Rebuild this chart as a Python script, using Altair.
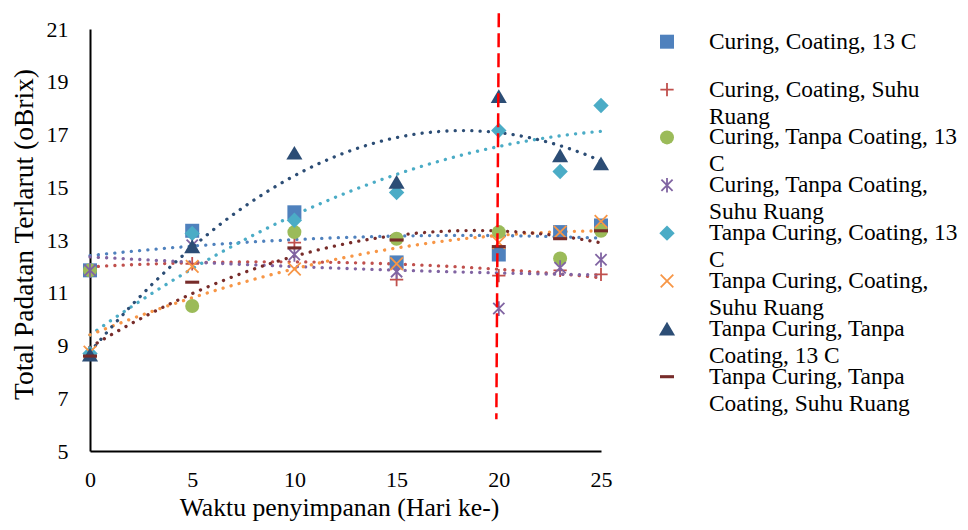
import altair as alt
import pandas as pd

# ---- data ----
days = [0, 5, 10, 15, 20, 23, 25]

names = [
    "Curing, Coating, 13 C",
    "Curing, Coating, Suhu Ruang",
    "Curing, Tanpa Coating, 13 C",
    "Curing, Tanpa Coating, Suhu Ruang",
    "Tanpa Curing, Coating, 13 C",
    "Tanpa Curing, Coating, Suhu Ruang",
    "Tanpa Curing, Tanpa Coating, 13 C",
    "Tanpa Curing, Tanpa Coating, Suhu Ruang",
]
legend_labels = [
    "Curing, Coating, 13 C",
    "Curing, Coating, Suhu|Ruang",
    "Curing, Tanpa Coating, 13|C",
    "Curing, Tanpa Coating,|Suhu Ruang",
    "Tanpa Curing, Coating, 13|C",
    "Tanpa Curing, Coating,|Suhu Ruang",
    "Tanpa Curing, Tanpa|Coating, 13 C",
    "Tanpa Curing, Tanpa|Coating, Suhu Ruang",
]

cc13 = [11.85, 13.35, 14.05, 12.15, 12.45, 13.3, 13.55]
ccsr = [11.85, 12.1, 12.9, 11.5, 11.65, 11.85, 11.7]
ctc13 = [11.85, 10.5, 13.3, 13.05, 13.3, 12.3, 13.35]
ctcsr = [11.85, 12.8, 12.45, 11.8, 10.4, 11.95, 12.25]
tcc13 = [8.7, 13.25, 13.75, 14.8, 17.15, 15.6, 18.1]
tccsr = [8.75, 12.0, 11.9, 12.1, 12.9, 13.3, 13.7]
tctc13 = [8.65, 12.75, 16.3, 15.2, 18.45, 16.2, 15.9]
tctcsr = [8.6, 11.4, 12.7, 13.0, 12.75, 13.05, 13.35]
values = [cc13, ccsr, ctc13, ctcsr, tcc13, tccsr, tctc13, tctcsr]

# series that have a dotted polynomial trendline
trend_series = [names[0], names[1], names[3], names[4], names[5], names[6], names[7]]

# red dashed reference line
vline_top_x = [20.0]
vline_bottom_x = [19.88]
vline_top_y = [21.6]
vline_bottom_y = [6.2]

# ---- styling ----
colors = ["#4F81BD", "#C0504D", "#9BBB59", "#8064A2", "#4BACC6", "#F79646", "#2C4D75", "#772C2A"]
shapes = [
    "M-1,-1H1V1H-1Z",                      # square
    "M-0.95,0H0.95M0,-0.95V0.95",          # plus
    "circle",                              # circle
    "M-0.8,-0.8L0.8,0.8M-0.8,0.8L0.8,-0.8M0,-1.05V1.05",  # asterisk
    "M0,-1.1L1.1,0L0,1.1L-1.1,0Z",         # diamond
    "M-0.9,-0.9L0.9,0.9M-0.9,0.9L0.9,-0.9",  # x
    "M0,-1L1.15,0.95L-1.15,0.95Z",         # triangle
    "M-1,-0.22H1V0.22H-1Z",                # dash
]
line_shape = [False, True, False, True, False, True, False, False]
fills = ["transparent" if l else c for c, l in zip(colors, line_shape)]
strokes = [c if l else "transparent" for c, l in zip(colors, line_shape)]

FONT = "Liberation Serif"

rows = []
for n, vals in zip(names, values):
    for d, v in zip(days, vals):
        rows.append({"series": n, "x": d, "y": v})
df = pd.DataFrame(rows)

leg_df = pd.DataFrame({"series": names, "label": legend_labels})
rule_df = pd.DataFrame({"x": vline_top_x, "x2": vline_bottom_x, "y": vline_top_y, "y2": vline_bottom_y})

xscale = alt.Scale(domain=[0, 25], nice=False, zero=False)
yscale = alt.Scale(domain=[5, 21], nice=False, zero=False)

xaxis = alt.Axis(values=[0, 5, 10, 15, 20, 25], title="Waktu penyimpanan (Hari ke-)",
                 grid=False, ticks=False, tickSize=0, labelPadding=18, titlePadding=5,
                 labelFlush=False, titleFontSize=25.7, titleX=249,
                 domainColor="black", domainWidth=2)
yaxis = alt.Axis(values=list(range(5, 22, 2)), title="Total Padatan Terlarut (oBrix)",
                 grid=False, ticks=False, tickSize=0, labelPadding=22, titlePadding=8,
                 labelFlush=False, titleFontSize=27.5, titleY=205,
                 domainColor="black", domainWidth=2)

color_scale = alt.Scale(domain=names, range=colors)
shape_scale = alt.Scale(domain=names, range=shapes)
fill_scale = alt.Scale(domain=names, range=fills)
stroke_scale = alt.Scale(domain=names, range=strokes)

base = alt.Chart(df)

trend = base.transform_filter(
    alt.FieldOneOfPredicate(field="series", oneOf=trend_series)
).transform_regression(
    "x", "y", groupby=["series"], method="poly", order=2, extent=[0, 25]
).mark_line(strokeDash=[0.1, 8.2], strokeCap="round", strokeWidth=3.3).encode(
    x=alt.X("x:Q", scale=xscale, axis=xaxis),
    y=alt.Y("y:Q", scale=yscale, axis=yaxis),
    color=alt.Color("series:N", scale=color_scale, legend=None),
    detail="series:N",
)

points = base.mark_point(size=196, strokeWidth=1.8, opacity=1, filled=False).encode(
    x=alt.X("x:Q", scale=xscale),
    y=alt.Y("y:Q", scale=yscale),
    shape=alt.Shape("series:N", scale=shape_scale, legend=None),
    fill=alt.Fill("series:N", scale=fill_scale, legend=None),
    stroke=alt.Stroke("series:N", scale=stroke_scale, legend=None),
)

rule = alt.Chart(rule_df).mark_rule(color="#FF0000", strokeWidth=2.5, strokeDash=[14, 6]).encode(
    x=alt.X("x:Q", scale=xscale),
    x2="x2:Q",
    y=alt.Y("y:Q", scale=yscale),
    y2="y2:Q",
)

main = alt.layer(trend, points, rule)

leg_y = alt.Y("series:N", scale=alt.Scale(type="point", domain=names, range=[12.7, 347.7], padding=0),
              axis=None, sort=names)
leg_pts = alt.Chart(leg_df).mark_point(size=196, strokeWidth=1.8, opacity=1, filled=False).encode(
    x=alt.value(577),
    y=leg_y,
    shape=alt.Shape("series:N", scale=shape_scale, legend=None),
    fill=alt.Fill("series:N", scale=fill_scale, legend=None),
    stroke=alt.Stroke("series:N", scale=stroke_scale, legend=None),
)
leg_txt = alt.Chart(leg_df).mark_text(align="left", baseline="middle", lineBreak="|",
                                      font=FONT, fontSize=23.4, lineHeight=27, color="black").encode(
    x=alt.value(619),
    y=leg_y,
    text="label:N",
)
legend = alt.layer(leg_pts, leg_txt)

chart = alt.layer(main, legend).resolve_scale(y="independent").properties(
    width=511, height=422,
    autosize=alt.AutoSizeParams(type="none"),
    padding={"left": 82, "top": 21, "right": 359, "bottom": 71},
).configure_view(stroke=None).configure_axis(
    labelFont=FONT, labelFontSize=22, labelColor="black",
    titleFont=FONT, titleFontWeight="normal", titleColor="black",
)

chart.save("out.html", embed_options={"renderer": "svg", "actions": False})
